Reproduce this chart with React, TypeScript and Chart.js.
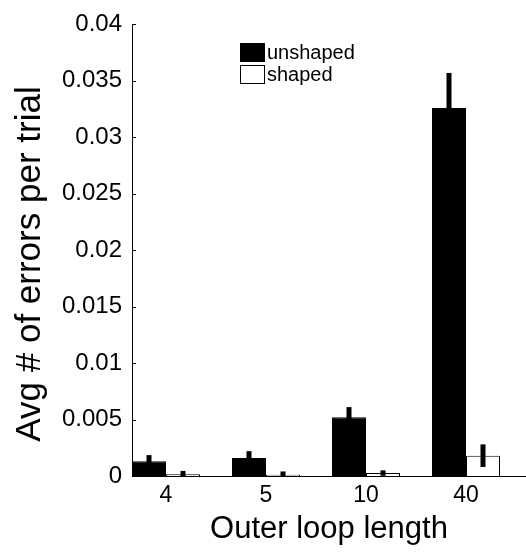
import React, { useEffect, useRef } from "react";
import { Chart, registerables } from "chart.js";

Chart.register(...registerables);

const categories = ["4", "5", "10", "40"];
const seriesNames = ["unshaped", "shaped"];
const unshapedValues = [0.0013, 0.0016, 0.0052, 0.0326];
const unshapedErrors = [0.00055, 0.0006, 0.0009, 0.0031];
const shapedValues = [0.00015, 0.0001, 0.00026, 0.0018];
const shapedErrors = [0.0003, 0.0003, 0.00024, 0.001];
const yTicks = [0, 0.005, 0.01, 0.015, 0.02, 0.025, 0.03, 0.035, 0.04];
const yTitle = "Avg # of errors per trial";
const xTitle = "Outer loop length";

const FONT = "'Liberation Sans', Arial, Helvetica, sans-serif";

const errorBarPlugin = {
  id: "errorBars",
  afterDatasetsDraw(chart: any) {
    const { ctx, chartArea } = chart;
    const yScale = chart.scales.y;
    const errs = [unshapedErrors, shapedErrors];
    const vals = [unshapedValues, shapedValues];
    ctx.save();
    ctx.beginPath();
    ctx.rect(chartArea.left, chartArea.top - 2, chartArea.right - chartArea.left, chartArea.bottom - chartArea.top + 2);
    ctx.clip();
    ctx.fillStyle = "#000";
    chart.data.datasets.forEach((ds: any, di: number) => {
      const meta = chart.getDatasetMeta(di);
      meta.data.forEach((bar: any, i: number) => {
        const v = vals[di][i];
        const e = errs[di][i];
        const yTop = yScale.getPixelForValue(v + e);
        const yBot = yScale.getPixelForValue(v - e);
        const w = 5;
        ctx.fillRect(bar.x - w / 2, yTop, w, yBot - yTop);
      });
    });
    ctx.restore();
  },
};

const inwardTicksPlugin = {
  id: "inwardTicks",
  afterDraw(chart: any) {
    const { ctx, chartArea } = chart;
    const yScale = chart.scales.y;
    ctx.save();
    ctx.strokeStyle = "#000";
    ctx.lineWidth = 1;
    yScale.ticks.forEach((t: any) => {
      const y = Math.round(yScale.getPixelForValue(t.value)) + 0.5;
      ctx.beginPath();
      ctx.moveTo(chartArea.left, y);
      ctx.lineTo(chartArea.left + 4, y);
      ctx.stroke();
    });
    ctx.restore();
  },
};

const yTitlePlugin = {
  id: "yTitleCustom",
  afterDraw(chart: any) {
    const { ctx } = chart;
    ctx.save();
    ctx.translate(30, 264);
    ctx.rotate(-Math.PI / 2);
    ctx.font = `35px ${FONT}`;
    ctx.fillStyle = "#000";
    ctx.textAlign = "center";
    ctx.textBaseline = "middle";
    ctx.fillText(yTitle, 0, 0);
    ctx.restore();
  },
};

const legendPlugin = {
  id: "customLegend",
  afterDraw(chart: any) {
    const { ctx } = chart;
    ctx.save();
    ctx.font = `20px ${FONT}`;
    ctx.textBaseline = "middle";
    ctx.textAlign = "left";
    chart.data.datasets.forEach((ds: any, di: number) => {
      const x = 240;
      const y = 43 + di * 22;
      ctx.fillStyle = ds.backgroundColor;
      ctx.fillRect(x, y, 25, 19);
      ctx.strokeStyle = "#000";
      ctx.lineWidth = 1;
      ctx.strokeRect(x + 0.5, y + 0.5, 24, 18);
      ctx.fillStyle = "#000";
      ctx.fillText(ds.label, x + 27, y + 10);
    });
    ctx.restore();
  },
};

export default function App() {
  const canvasRef = useRef<HTMLCanvasElement | null>(null);

  useEffect(() => {
    if (!canvasRef.current) return;
    const chart = new Chart(canvasRef.current, {
      type: "bar",
      data: {
        datasets: [
          {
            label: seriesNames[0],
            data: unshapedValues.map((v, i) => ({ x: i + 1, y: v })),
            backgroundColor: "#000000",
            borderColor: "#000000",
            borderWidth: 1,
          },
          {
            label: seriesNames[1],
            data: shapedValues.map((v, i) => ({ x: i + 1, y: v })),
            backgroundColor: "#ffffff",
            borderColor: "#000000",
            borderWidth: 1,
          },
        ],
      },
      options: {
        animation: false,
        responsive: false,
        devicePixelRatio: 1,
        layout: { padding: 0 },
        datasets: {
          bar: { categoryPercentage: 0.68, barPercentage: 1 },
        },
        plugins: {
          legend: { display: false },
          tooltip: { enabled: false },
        },
        scales: {
          x: {
            type: "linear",
            offset: false,
            min: 0.66,
            max: 4.6,
            grid: { display: false, drawTicks: false, offset: false },
            border: { display: true, color: "#000", width: 1 },
            afterBuildTicks: (scale: any) => {
              scale.ticks = categories.map((_, i) => ({ value: i + 1 }));
            },
            afterFit: (scale: any) => {
              scale.height = 80;
            },
            ticks: {
              color: "#000",
              font: { family: FONT, size: 23 },
              padding: 6,
              maxRotation: 0,
              autoSkip: false,
              callback: (v: any) => {
                const idx = Math.round(Number(v)) - 1;
                return categories[idx] ?? "";
              },
            },
            title: {
              display: true,
              text: xTitle,
              color: "#000",
              font: { family: FONT, size: 31 },
              padding: { top: 0, bottom: 8 },
            },
          },
          y: {
            type: "linear",
            min: 0,
            max: 0.04,
            grid: { display: false, drawTicks: false },
            border: { display: true, color: "#000", width: 1 },
            afterBuildTicks: (scale: any) => {
              scale.ticks = yTicks.map((v) => ({ value: v }));
            },
            afterFit: (scale: any) => {
              scale.width = 132;
            },
            ticks: {
              color: "#000",
              font: { family: FONT, size: 24 },
              padding: 10,
              callback: (v: any) => String(Number(Number(v).toFixed(4))),
            },
            title: { display: false },
          },
        },
      },
      plugins: [errorBarPlugin, inwardTicksPlugin, legendPlugin, yTitlePlugin],
    } as any);
    return () => chart.destroy();
  }, []);

  return (
    <div style={{ position: "absolute", left: 0, top: 0, width: 526, height: 556, background: "#fff" }}>
      <canvas ref={canvasRef} width={526} height={556} style={{ display: "block" }} />
    </div>
  );
}
